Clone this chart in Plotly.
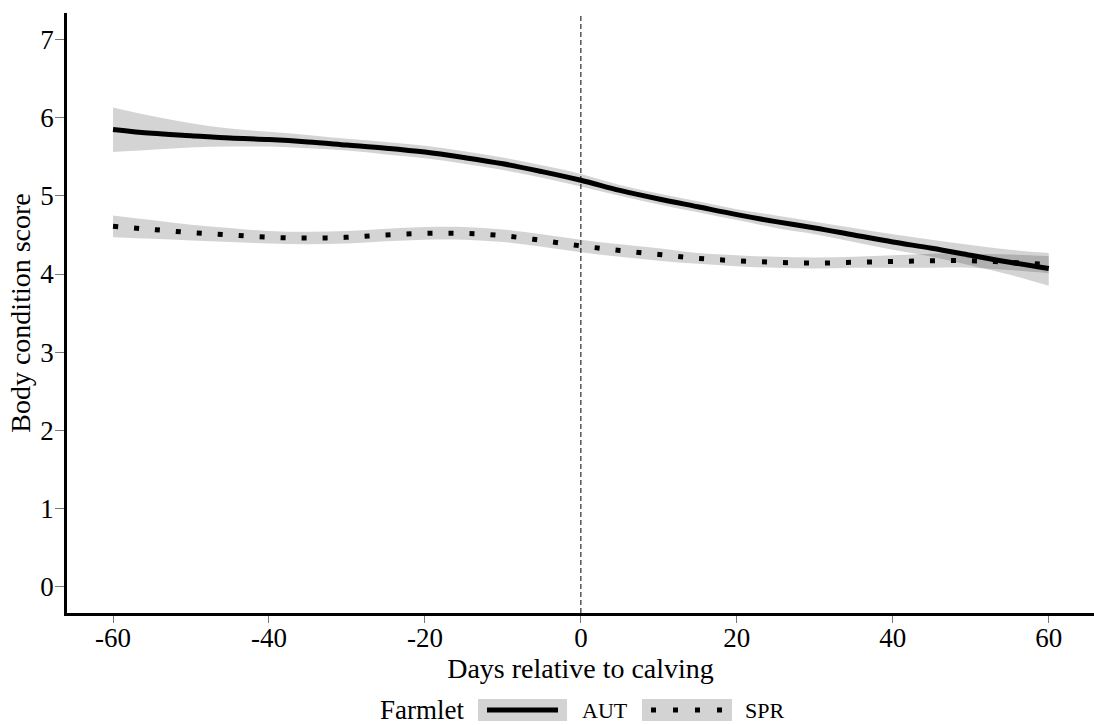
import plotly.graph_objects as go

# ---------------- data ----------------
days = [-60, -55, -50, -45, -40, -35, -30, -25, -20, -15, -10, -5, 0,
        5, 10, 15, 20, 25, 30, 35, 40, 45, 50, 55, 60]

aut_mean = [5.85, 5.80, 5.77, 5.74, 5.72, 5.69, 5.65, 5.61, 5.56, 5.49, 5.41, 5.31, 5.20,
            5.07, 4.96, 4.86, 4.76, 4.67, 4.59, 4.50, 4.41, 4.33, 4.24, 4.15, 4.07]
aut_lower = [5.56, 5.59, 5.62, 5.63, 5.63, 5.61, 5.58, 5.53, 5.48, 5.41, 5.33, 5.23, 5.12,
             5.00, 4.89, 4.79, 4.69, 4.59, 4.51, 4.41, 4.31, 4.22, 4.11, 3.99, 3.85]
aut_upper = [6.13, 6.02, 5.93, 5.86, 5.82, 5.78, 5.73, 5.69, 5.64, 5.57, 5.49, 5.39, 5.28,
             5.14, 5.03, 4.93, 4.83, 4.75, 4.67, 4.59, 4.51, 4.44, 4.37, 4.31, 4.27]

spr_mean = [4.61, 4.57, 4.53, 4.50, 4.47, 4.46, 4.47, 4.50, 4.52, 4.52, 4.49, 4.43, 4.36,
            4.30, 4.25, 4.20, 4.17, 4.15, 4.14, 4.15, 4.16, 4.17, 4.17, 4.15, 4.12]
spr_lower = [4.47, 4.45, 4.43, 4.41, 4.39, 4.38, 4.39, 4.42, 4.44, 4.44, 4.41, 4.35, 4.28,
             4.22, 4.17, 4.13, 4.10, 4.08, 4.07, 4.08, 4.08, 4.08, 4.08, 4.05, 4.01]
spr_upper = [4.75, 4.69, 4.63, 4.59, 4.55, 4.54, 4.55, 4.58, 4.60, 4.60, 4.57, 4.51, 4.44,
             4.38, 4.33, 4.27, 4.24, 4.22, 4.21, 4.22, 4.24, 4.26, 4.26, 4.25, 4.23]

x_ticks = [-60, -40, -20, 0, 20, 40, 60]
y_ticks = [0, 1, 2, 3, 4, 5, 6, 7]

legend_title = "Farmlet"
groups = ["AUT", "SPR"]

# ---------------- style ----------------
FONT = "Liberation Serif"
BAND = "rgba(0,0,0,0.17)"
SPR_DASH = "5px,16px"

fig = go.Figure()


def add_group(mean, lower, upper, dash):
    fig.add_trace(go.Scatter(x=days, y=lower, mode="lines",
                             line=dict(width=0, shape="spline", color=BAND),
                             showlegend=False, hoverinfo="skip"))
    fig.add_trace(go.Scatter(x=days, y=upper, mode="lines", fill="tonexty",
                             fillcolor=BAND,
                             line=dict(width=0, shape="spline", color=BAND),
                             showlegend=False, hoverinfo="skip"))
    fig.add_trace(go.Scatter(x=days, y=mean, mode="lines",
                             line=dict(width=5, shape="spline", color="black", dash=dash),
                             showlegend=False))


add_group(spr_mean, spr_lower, spr_upper, SPR_DASH)
add_group(aut_mean, aut_lower, aut_upper, "solid")

# vertical reference line at calving
fig.add_shape(type="line", xref="x", yref="paper", x0=0, x1=0, y0=0, y1=1,
              line=dict(color="black", width=1, dash="5px,3px"), layer="above")

# ---------------- manual legend (paper coords) ----------------
W, H = 1094, 725
L, R, T, B = 67, 0, 13, 112
PW, PH = W - L - R, H - T - B


def px(xp):
    return (xp - L) / PW


def py(yp):
    return (H - B - yp) / PH


ly = 710
fig.add_annotation(x=px(378), y=py(ly), xref="paper", yref="paper", text=legend_title,
                   showarrow=False, xanchor="left", yanchor="middle",
                   font=dict(family=FONT, size=27, color="black"))
# AUT key
fig.add_shape(type="rect", xref="paper", yref="paper", x0=px(478), x1=px(567),
              y0=py(721), y1=py(699), fillcolor="#d3d3d3", line=dict(width=0))
fig.add_shape(type="line", xref="paper", yref="paper", x0=px(487), x1=px(558),
              y0=py(ly), y1=py(ly), line=dict(color="black", width=5))
fig.add_annotation(x=px(580), y=py(ly), xref="paper", yref="paper", text=groups[0],
                   showarrow=False, xanchor="left", yanchor="middle",
                   font=dict(family=FONT, size=22, color="black"))
# SPR key
fig.add_shape(type="rect", xref="paper", yref="paper", x0=px(642), x1=px(732),
              y0=py(721), y1=py(699), fillcolor="#d3d3d3", line=dict(width=0))
fig.add_shape(type="line", xref="paper", yref="paper", x0=px(651), x1=px(722),
              y0=py(ly), y1=py(ly), line=dict(color="black", width=5, dash="5px,17px"))
fig.add_annotation(x=px(743), y=py(ly), xref="paper", yref="paper", text=groups[1],
                   showarrow=False, xanchor="left", yanchor="middle",
                   font=dict(family=FONT, size=22, color="black"))

fig.update_layout(
    width=W, height=H,
    margin=dict(l=L, r=R, t=T, b=B, pad=0),
    paper_bgcolor="white", plot_bgcolor="white",
    font=dict(family=FONT, size=27, color="black"),
    showlegend=False,
    xaxis=dict(range=[-65.9, 65.8], tickvals=x_ticks, ticktext=[str(v) for v in x_ticks],
               showgrid=False, zeroline=False, showline=True, linecolor="black", linewidth=2.5,
               ticks="outside", ticklen=7, tickwidth=1, tickcolor="#777777",
               ticklabelstandoff=-8,
               tickfont=dict(family=FONT, size=27, color="black"),
               title=dict(text="Days relative to calving", standoff=0,
                          font=dict(family=FONT, size=28, color="black"))),
    yaxis=dict(range=[-0.336, 7.339], tickvals=y_ticks, ticktext=[str(v) for v in y_ticks],
               showgrid=False, zeroline=False, showline=True, linecolor="black", linewidth=2.5,
               ticks="outside", ticklen=9, tickwidth=1, tickcolor="#777777",
               ticklabelstandoff=-4,
               tickfont=dict(family=FONT, size=27, color="black"),
               title=dict(text="Body condition score", standoff=2,
                          font=dict(family=FONT, size=28, color="black"))),
)

fig.write_html("out.html")
